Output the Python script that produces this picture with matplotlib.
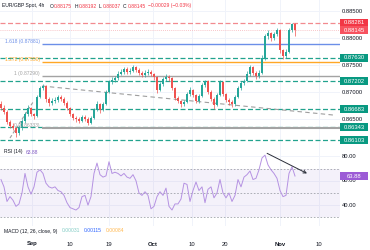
import matplotlib
matplotlib.use("Agg")
import matplotlib.pyplot as plt
from matplotlib import transforms
from matplotlib.patches import Rectangle

plt.rcParams["font.family"] = ["Liberation Sans", "DejaVu Sans"]

# ---- data (EUR/GBP 4h, one candle per ~3 bars) ----
first_open = 0.86780
closes = [
    0.86704, 0.86630, 0.86444, 0.86370, 0.86333, 0.86241, 0.86333, 0.86463, 0.86593, 0.86704,
    0.86593, 0.86556, 0.86907, 0.87074, 0.87111, 0.86870, 0.86796, 0.86833, 0.86852, 0.86907,
    0.86870, 0.86796, 0.86704, 0.86593, 0.86519, 0.86500, 0.86463, 0.86537, 0.86500, 0.86426,
    0.86519, 0.86667, 0.86778, 0.86667, 0.86778, 0.87000, 0.87185, 0.87222, 0.87259, 0.87333,
    0.87370, 0.87426, 0.87370, 0.87389, 0.87463, 0.87407, 0.87352, 0.87315, 0.87352, 0.87370,
    0.87333, 0.87278, 0.87037, 0.87148, 0.87241, 0.87278, 0.87259, 0.87074, 0.86889, 0.86833,
    0.86778, 0.86815, 0.86963, 0.87037, 0.86944, 0.86833, 0.86926, 0.87130, 0.87204, 0.87000,
    0.86870, 0.86759, 0.86944, 0.87185, 0.86963, 0.86852, 0.86815, 0.86778, 0.86907, 0.87074,
    0.87167, 0.87204, 0.87333, 0.87463, 0.87352, 0.87296, 0.87352, 0.87630, 0.88037, 0.88093,
    0.88000, 0.88074, 0.88148, 0.87778, 0.87667, 0.87741, 0.88148, 0.88259, 0.88145,
]
highs = [
    0.86830, 0.86760, 0.86660, 0.86480, 0.86420, 0.86360, 0.86380, 0.86500, 0.86630, 0.86760,
    0.86730, 0.86620, 0.86950, 0.87110, 0.87150, 0.87130, 0.86900, 0.86880, 0.86900, 0.86950,
    0.86940, 0.86900, 0.86830, 0.86730, 0.86620, 0.86560, 0.86540, 0.86580, 0.86570, 0.86530,
    0.86550, 0.86700, 0.86830, 0.86800, 0.86810, 0.87040, 0.87220, 0.87280, 0.87300, 0.87380,
    0.87420, 0.87470, 0.87460, 0.87440, 0.87500, 0.87490, 0.87440, 0.87380, 0.87400, 0.87420,
    0.87410, 0.87360, 0.87300, 0.87190, 0.87280, 0.87330, 0.87310, 0.87280, 0.87100, 0.86920,
    0.86860, 0.86850, 0.87000, 0.87090, 0.87060, 0.86970, 0.86960, 0.87170, 0.87230, 0.87220,
    0.87030, 0.86900, 0.86980, 0.87220, 0.87200, 0.86990, 0.86880, 0.86850, 0.86940, 0.87110,
    0.87200, 0.87250, 0.87380, 0.87500, 0.87480, 0.87380, 0.87400, 0.87680, 0.88080, 0.88150,
    0.88120, 0.88120, 0.88180, 0.88160, 0.87800, 0.87790, 0.88180, 0.88281, 0.88270,
]
lows = [
    0.86660, 0.86590, 0.86410, 0.86330, 0.86290, 0.86170, 0.86200, 0.86300, 0.86430, 0.86560,
    0.86550, 0.86500, 0.86540, 0.86880, 0.87030, 0.86820, 0.86750, 0.86760, 0.86790, 0.86820,
    0.86830, 0.86760, 0.86670, 0.86560, 0.86480, 0.86450, 0.86420, 0.86440, 0.86460, 0.86380,
    0.86400, 0.86500, 0.86640, 0.86620, 0.86640, 0.86760, 0.86980, 0.87150, 0.87180, 0.87220,
    0.87310, 0.87340, 0.87330, 0.87340, 0.87370, 0.87370, 0.87310, 0.87270, 0.87280, 0.87310,
    0.87290, 0.87230, 0.86990, 0.87010, 0.87120, 0.87210, 0.87200, 0.87030, 0.86850, 0.86790,
    0.86730, 0.86740, 0.86790, 0.86930, 0.86910, 0.86790, 0.86800, 0.86900, 0.87100, 0.86960,
    0.86830, 0.86690, 0.86740, 0.86920, 0.86930, 0.86810, 0.86760, 0.86720, 0.86750, 0.86880,
    0.87040, 0.87130, 0.87180, 0.87300, 0.87310, 0.87250, 0.87260, 0.87330, 0.87600, 0.87980,
    0.87950, 0.87960, 0.88040, 0.87730, 0.87620, 0.87630, 0.87720, 0.88120, 0.88037,
]
rsi = [
    61, 55, 43, 47, 44, 39, 41, 50, 66, 55,
    49, 55, 67, 69, 66, 58, 55, 54, 55, 52,
    51, 48, 42, 38, 37, 36, 38, 47, 48, 40,
    47, 66, 74.5, 65, 63, 64, 75.6, 66, 67, 66,
    64, 66, 63, 62, 65, 60, 50, 48, 51, 48,
    37, 39, 47, 51, 48, 54, 39, 36, 41, 41,
    45, 58, 57, 43, 52, 59, 52, 55, 42, 53,
    55, 46, 50, 61, 50, 46, 50, 43, 48, 61,
    55, 63, 65, 68, 61, 62, 69, 78.7, 81, 73,
    69, 66, 62, 52, 47, 48, 66, 71.5, 63.88,
]

date_ticks = [10.3, 23, 36, 50.7, 63.7, 74.7, 93, 106]
date_labels = ["Sep", "10", "19", "Oct", "10", "20", "Nov", "10"]
months = {"Sep", "Oct", "Nov"}

price_ticks = [0.885, 0.880, 0.875, 0.870, 0.865]
support_levels = [0.87630, 0.87202, 0.86683, 0.86343, 0.86103]
resistance = 0.88281
last_price = 0.88145
fib_ratios = [1.618, 1.272, 1.0, 0.0]
fib_prices = [0.87881, 0.87550, 0.87290, 0.86333]
trend_down = ([13.7, 110.7], [0.87111, 0.86574])
trend_up = ([3.0, 10.7], [0.86148, 0.86815])
rsi_ticks = [80, 60, 40]
rsi_last = 63.88
rsi_arrow = ((88.7, 82.5), (102.0, 66.0))

ohlc = {"O": 0.88175, "H": 0.88192, "L": 0.88037, "C": 0.88145}
change = "\u22120.00029 (\u22120.03%)"
macd_vals = ["0.00031", "0.00115", "0.00084"]

# ---- style ----
W, H = 370, 250
DARK = "#131722"
UP = "#26a69a"
DOWN = "#ef5350"
GRID = "#f0f3fa"
LEVEL = "#22a38e"
FIB_COLORS = ["#6c8fe8", "#ffa726", "#a3a3a3", "#a3a3a3"]
XMAX = 113

fig = plt.figure(figsize=(W / 100, H / 100), dpi=100)


def px_axes(left, top, right, bottom):
    a = fig.add_axes([left / W, 1 - bottom / H, (right - left) / W, (bottom - top) / H])
    for s in a.spines.values():
        s.set_visible(False)
    a.set_xticks([])
    a.set_yticks([])
    a.set_xlim(-0.33, XMAX)
    return a


ax = px_axes(0, 0, 340, 146)
ax.set_ylim(0.86000, 0.88704)
ax_rsi = px_axes(0, 146, 340, 226)
ax_rsi.set_ylim(22.9, 88.5)

for a in (ax, ax_rsi):
    for t in date_ticks:
        a.axvline(t, color=GRID, lw=0.7, zorder=0)
for p in price_ticks:
    ax.axhline(p, color=GRID, lw=0.7, zorder=0)
for r in rsi_ticks:
    ax_rsi.axhline(r, color=GRID, lw=0.7, zorder=0)

# candles
opens = [first_open] + closes[:-1]
xs = list(range(len(closes)))
cols = [UP if c >= o else DOWN for o, c in zip(opens, closes)]
ax.vlines(xs, lows, highs, colors=cols, lw=0.5, zorder=4)
ax.bar(xs, [max(abs(c - o), 0.00003) for o, c in zip(opens, closes)],
       bottom=[min(o, c) for o, c in zip(opens, closes)],
       width=0.62, color=cols, lw=0, zorder=5)

# levels
for p in support_levels:
    ax.axhline(p, color=LEVEL, lw=0.9, dashes=(4, 2), zorder=2)
ax.axhline(resistance, color="#f28a8f", lw=0.9, dashes=(4, 2), zorder=2)
ax.axhline(last_price, color="#f6b3b8", lw=0.6, dashes=(1, 1.5), zorder=2)

for ratio, p, col in zip(fib_ratios, fib_prices, FIB_COLORS):
    ax.hlines(p, 13.7, XMAX, color=col, lw=1.5 if ratio == 0 else 1.0, zorder=3)
    ax.text(13.0, p, f"{ratio:g} ({p:.5f})", ha="right", va="bottom",
            fontsize=3.6, color=col, zorder=6)

ax.plot(*trend_down, color="#9e9e9e", lw=0.8, dashes=(4, 3), zorder=3)
ax.plot(*trend_up, color="#9e9e9e", lw=0.8, dashes=(3, 2), zorder=3)

# RSI pane
ax_rsi.axhspan(30, 70, color="#7e57c2", alpha=0.08, lw=0, zorder=0)
for r in (70, 50, 30):
    ax_rsi.axhline(r, color="#a0a3ab", lw=0.6, dashes=(2, 2), zorder=1)
ax_rsi.plot(xs, rsi, color="#b592e2", lw=0.7, zorder=3)
ax_rsi.annotate("", xy=rsi_arrow[1], xytext=rsi_arrow[0],
                arrowprops=dict(arrowstyle="->", color="#2a2e39", lw=0.7,
                                shrinkA=0, shrinkB=0, mutation_scale=5))


# right scale
def axis_label(a, val, text):
    bt = transforms.blended_transform_factory(a.transAxes, a.transData)
    a.text(342 / 340, val, text, transform=bt, ha="left", va="center",
           fontsize=4.2, color=DARK, clip_on=False)


def value_box(a, val, text, color):
    y0, y1 = a.get_ylim()
    dy = 8 * (y1 - y0) / (a.get_position().height * H)
    bt = transforms.blended_transform_factory(a.transAxes, a.transData)
    a.add_patch(Rectangle((1.0, val - dy / 2), 28 / 340, dy, transform=bt,
                          facecolor=color, edgecolor="none", clip_on=False, zorder=10))
    a.text(1 + 14 / 340, val, text, transform=bt, ha="center", va="center",
           fontsize=4.2, color="white", clip_on=False, zorder=11)


for p in price_ticks:
    axis_label(ax, p, f"{p:.5f}")
for r in rsi_ticks:
    axis_label(ax_rsi, r, f"{r:.2f}")
value_box(ax, resistance, f"{resistance:.5f}", "#f23645")
value_box(ax, last_price, f"{last_price:.5f}", "#f7525f")
for p in support_levels:
    value_box(ax, p, f"{p:.5f}", "#089981")
value_box(ax_rsi, rsi_last, f"{rsi_last:.2f}", "#9c5bd6")

# date axis
dt = transforms.blended_transform_factory(ax_rsi.transData, fig.transFigure)
for t, lab in zip(date_ticks, date_labels):
    fig.text(t, 1 - 244 / H, lab, transform=dt, ha="center", va="center", fontsize=4.2,
             color=DARK, fontweight="bold" if lab in months else "normal")

# legends
renderer = fig.canvas.get_renderer()


def pieces(x, y, parts, size=3.6):
    for text, color, gap in parts:
        t = fig.text(x / W, 1 - y / H, text, color=color, fontsize=size, ha="left", va="center")
        x += t.get_window_extent(renderer=renderer).width + gap


red = "#f23645"
head = [("EUR/GBP Spot, 4h", DARK, 5)]
for k, v in ohlc.items():
    head += [(k, DARK, 0.6), (f"{v:.5f}", red, 2.5)]
head.append((change, red, 0))
pieces(2, 6, head)
pieces(4, 152, [("RSI (14)", DARK, 3), (f"{rsi_last:.2f}", "#7e57c2", 0)])
pieces(4, 231, [("MACD (12, 26, close, 9)", DARK, 4), (macd_vals[0], "#80cbc4", 4),
                (macd_vals[1], "#2962ff", 4), (macd_vals[2], "#ffb74d", 0)])

fig.savefig("out.png", dpi=100)
